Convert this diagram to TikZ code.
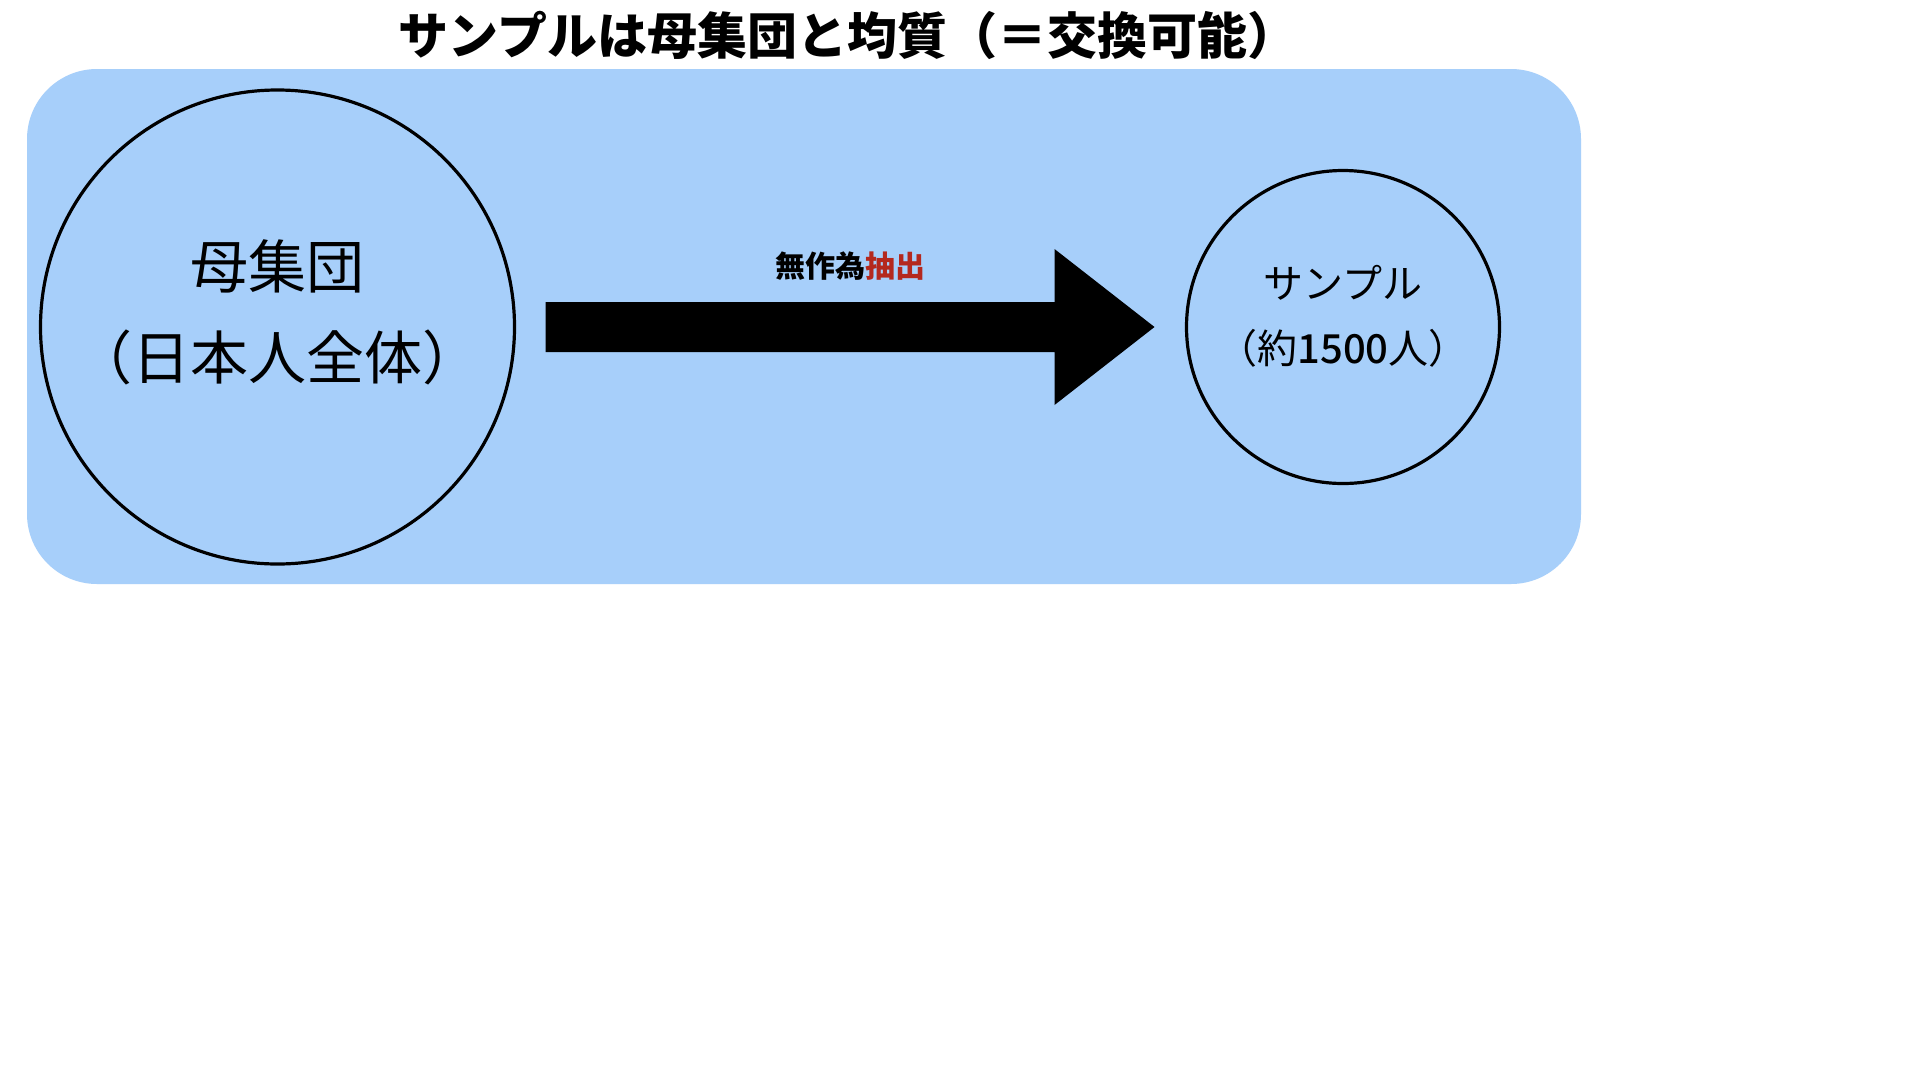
\documentclass[tikz,border=0pt]{standalone}
\usepackage{fontspec}
\setmainfont{Noto Sans CJK JP}
\newfontfamily\medfont{Noto Sans CJK JP Medium}
\usetikzlibrary{calc}
\definecolor{boxblue}{RGB}{167,207,250}
\definecolor{pickred}{RGB}{180,40,30}
\tikzset{
  ring/.style={circle,draw=black,line width=3.2pt,inner sep=0pt,outer sep=0pt},
  jtext/.style={inner sep=0pt,anchor=base},
}
\begin{document}
\begin{tikzpicture}[x=1pt,y=-1pt]
\useasboundingbox (0,0) rectangle (1920,1080);
\fill[white] (0,0) rectangle (1920,1080);
% title
\node[jtext,font=\fontsize{50}{58}\selectfont\bfseries] (title) at (848,54) {サンプルは母集団と均質（＝交換可能）};
% background panel
\fill[boxblue,rounded corners=70pt] (27,69) rectangle (1581,584);
% circles
\node[ring,minimum size=474pt] (pop) at (277.5,327) {};
\node[ring,minimum size=313pt] (smp) at (1343,327) {};
% texts
\node[inner sep=0pt,align=center,font=\fontsize{58}{91}\selectfont] (poptext) at (277.5,312) {母集団\\（日本人全体）};
\node[inner sep=0pt,align=center,font=\fontsize{40}{65}\selectfont] (smptext) at (1343,316) {サンプル\\（約{\medfont 1500}人）};
% block arrow
\coordinate (atail) at ($(pop.east)+(31,0)$);
\coordinate (atip) at ($(smp.west)+(-32,0)$);
\fill[black] ($(atail)+(0,-25)$) -- ($(atip)+(-100,-25)$) -- ($(atip)+(-100,-78)$) -- (atip) -- ($(atip)+(-100,78)$) -- ($(atip)+(-100,25)$) -- ($(atail)+(0,25)$) -- cycle;
\node[jtext,font=\fontsize{30}{36}\selectfont\bfseries] (lbl) at (850,277.5) {無作為\textcolor{pickred}{抽出}};
\end{tikzpicture}
\end{document}
